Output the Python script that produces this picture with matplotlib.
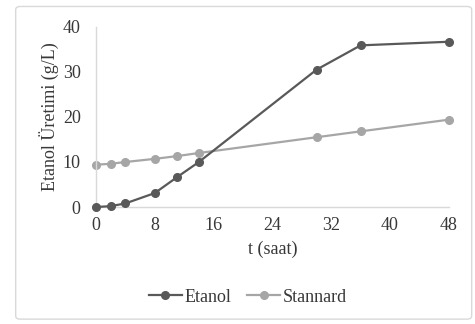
import matplotlib
matplotlib.use("Agg")
import matplotlib.pyplot as plt
from matplotlib.patches import FancyBboxPatch

plt.rcParams['font.family'] = ['Liberation Serif', 'DejaVu Serif']

t_hours = [0, 2, 4, 8, 11, 14, 30, 36, 48]
etanol = [0.0, 0.2, 0.8, 3.1, 6.6, 10.0, 30.5, 35.9, 36.7]
stannard = [9.4, 9.6, 10.0, 10.7, 11.3, 12.0, 15.5, 16.8, 19.4]
x_ticks = [0, 8, 16, 24, 32, 40, 48]
y_ticks = [0, 10, 20, 30, 40]

fig = plt.figure(figsize=(4.75, 3.24), dpi=100)
fig.patch.set_facecolor('white')

# outer chart frame
frame = FancyBboxPatch((0.033, 0.015), 0.96, 0.965, boxstyle="round,pad=0,rounding_size=0.01",
                       transform=fig.transFigure, facecolor='none', edgecolor='#d9d9d9',
                       lw=1.0, zorder=-1)
fig.patches.append(frame)

ax = fig.add_axes([0.202, 0.361, 0.743, 0.556])
ax.patch.set_alpha(0)
ax.plot(t_hours, etanol, color='#595959', lw=1.6, marker='o', ms=5.5, label='Etanol', zorder=3)
ax.plot(t_hours, stannard, color='#a6a6a6', lw=1.6, marker='o', ms=5.5, label='Stannard', zorder=2)

ax.set_xlim(0, 48)
ax.set_ylim(0, 40)
ax.set_xticks(x_ticks)
ax.set_yticks(y_ticks)
ax.tick_params(axis='x', length=0, labelsize=13, colors='#383838', pad=7)
ax.tick_params(axis='y', length=0, labelsize=13, colors='#383838', pad=11)
for side in ('top', 'right'):
    ax.spines[side].set_visible(False)
for side in ('left', 'bottom'):
    ax.spines[side].set_color('#d9d9d9')
    ax.spines[side].set_linewidth(1.0)
for line in ax.lines:
    line.set_clip_on(False)

ax.set_xlabel('t (saat)', fontsize=13, color='#383838', labelpad=5)
ax.set_ylabel('Etanol Üretimi (g/L)', fontsize=13, color='#383838', labelpad=3)

fig.legend(loc='center', bbox_to_anchor=(0.522, 0.083), ncol=2, frameon=False,
           fontsize=13, labelcolor='#383838', handlelength=1.8, handletextpad=0.15,
           columnspacing=0.9)

fig.savefig('out.png', dpi=100, facecolor='white')
